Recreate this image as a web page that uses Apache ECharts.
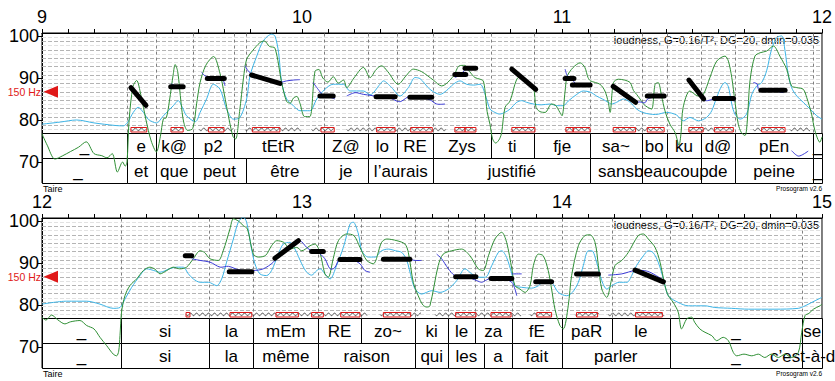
<!DOCTYPE html>
<html><head><meta charset="utf-8">
<script src="https://cdn.jsdelivr.net/npm/echarts@6/dist/echarts.min.js"></script>
<style>html,body{margin:0;padding:0;background:#fff}#c{width:835px;height:381px}</style>
</head><body><div id="c"></div>
<script>
// ---------------- DATA ----------------
// axis ticks / labels
const xLabels1 = [9, 10, 11, 12];
const xLabels2 = [12, 13, 14, 15];
const yLabels = [70, 80, 90, 100];
const refST = 86.74;      // 150 Hz in semitones re 1 Hz
const refLabel = '150 Hz';

// Panel 1 (9 - 12 s)
const green1 = [[9.0,76.7],[9.02,74],[9.05,70.7],[9.08,71.5],[9.11,72.5],[9.14,73.5],[9.17,74.8],[9.2,72],[9.23,71.5],[9.25,71],[9.27,72],[9.29,67.6],[9.31,70],[9.32,69],[9.327,70],[9.335,80],[9.35,88],[9.364,89.4],[9.38,86],[9.4,80],[9.42,75],[9.44,72.4],[9.455,76],[9.467,80.3],[9.478,80.5],[9.49,84.5],[9.505,91],[9.512,93.2],[9.522,91.5],[9.535,84],[9.545,79.5],[9.56,77.5],[9.58,78],[9.595,84],[9.608,88.9],[9.63,93],[9.66,95.1],[9.685,91],[9.7,86.5],[9.72,80],[9.735,76],[9.745,75.5],[9.76,82],[9.775,90],[9.787,94.4],[9.81,96.5],[9.838,98.4],[9.855,98.8],[9.875,97.5],[9.896,97.1],[9.922,88.8],[9.941,84.4],[9.955,84],[9.967,85.2],[9.98,85.6],[9.992,84],[10.01,80.8],[10.03,80.8],[10.05,91.6],[10.065,92],[10.08,90],[10.1,89],[10.12,90.3],[10.14,88.8],[10.16,89.5],[10.172,87.7],[10.2,90],[10.236,92.5],[10.262,90.1],[10.285,92],[10.306,92.9],[10.33,91.5],[10.37,88.5],[10.4,90.5],[10.428,92.1],[10.46,91.5],[10.505,89.5],[10.537,88.1],[10.582,90.4],[10.605,92.9],[10.625,93],[10.645,91.5],[10.665,90.1],[10.685,89.7],[10.697,89.3],[10.704,86.9],[10.712,82],[10.723,79],[10.733,75.5],[10.745,74.5],[10.76,75.5],[10.768,77],[10.781,83],[10.8,84.5],[10.826,89.7],[10.845,90.5],[10.864,88.9],[10.89,87.7],[10.9,83],[10.915,82],[10.935,81.8],[10.96,83.8],[10.975,83.5],[10.992,81.8],[11.0,81],[11.012,86.9],[11.02,90.4],[11.043,92.5],[11.07,93.6],[11.088,92.5],[11.1,90.1],[11.11,89.3],[11.146,88.5],[11.165,86.9],[11.178,84.2],[11.185,81.8],[11.198,88.9],[11.217,89.7],[11.24,89.5],[11.262,88.9],[11.275,87],[11.287,86.1],[11.3,85],[11.313,83.8],[11.33,83],[11.345,82.6],[11.358,88.5],[11.37,88.9],[11.383,85.7],[11.396,82.2],[11.415,79],[11.435,77],[11.45,74],[11.458,77],[11.466,83],[11.492,86.9],[11.524,85.7],[11.543,86],[11.569,90.1],[11.595,94],[11.627,95.2],[11.64,94],[11.653,90.1],[11.665,84.5],[11.678,79],[11.69,77],[11.704,76.3],[11.713,80],[11.723,89.3],[11.742,95.2],[11.762,96],[11.787,96.4],[11.813,97.6],[11.838,95.2],[11.864,92.1],[11.883,88.1],[11.903,87.7],[11.928,87.3],[11.941,85.4],[11.96,81.4],[11.973,77.4],[11.992,74.7],[12.0,76]];
const loud1 = [[9.0,79],[9.07,79.5],[9.133,80],[9.2,79.3],[9.28,78.7],[9.313,78.6],[9.33,79.5],[9.351,81.8],[9.37,83],[9.39,81.8],[9.41,80.1],[9.44,79.3],[9.467,81],[9.505,83.4],[9.524,84.6],[9.54,83],[9.556,81],[9.59,79.6],[9.608,81.8],[9.633,85],[9.659,88.5],[9.685,87.3],[9.71,82.6],[9.736,80.2],[9.76,80.5],[9.787,85],[9.8,90.5],[9.826,95.2],[9.851,98.8],[9.883,100.4],[9.896,100],[9.91,96],[9.922,88.9],[9.941,85],[9.967,83.4],[9.992,82.2],[10.03,82.2],[10.057,85],[10.088,87.3],[10.12,88.5],[10.159,88.5],[10.185,86.9],[10.236,86.9],[10.262,86],[10.3,88.5],[10.313,89.3],[10.345,87.7],[10.377,85.7],[10.409,87.7],[10.435,90.1],[10.455,89.8],[10.492,87.3],[10.531,86.1],[10.556,87],[10.582,88.5],[10.608,89.3],[10.633,88.5],[10.66,88.3],[10.685,88.5],[10.71,85],[10.723,82.6],[10.742,81.8],[10.76,81.4],[10.78,81.8],[10.8,82.6],[10.826,84.2],[10.845,84.6],[10.864,84.2],[10.89,83.8],[10.92,83.6],[10.954,83.8],[10.98,83.4],[11.005,83.4],[11.024,84.5],[11.057,86.1],[11.082,86.9],[11.11,86.6],[11.133,85.7],[11.155,85],[11.178,84.2],[11.19,83.8],[11.21,84.2],[11.236,85],[11.262,84.2],[11.287,82.6],[11.31,81.8],[11.338,81.4],[11.36,81.3],[11.403,81.8],[11.44,81.2],[11.467,79.8],[11.492,80.6],[11.525,79.8],[11.556,80.6],[11.576,82.2],[11.595,85.4],[11.614,88.1],[11.627,88.9],[11.64,87.9],[11.653,83.8],[11.665,81.4],[11.685,80.2],[11.71,81.4],[11.73,86.1],[11.749,88.1],[11.768,88.9],[11.787,91.7],[11.806,96.8],[11.826,99.6],[11.845,100],[11.858,96.4],[11.87,90.9],[11.883,87.7],[11.903,85.7],[11.928,84.2],[11.954,82.6],[11.98,81],[12.0,80.2]];
const pitch1 = [
  [[9.498,88.6],[9.51,88.2],[9.525,87.9],[9.543,87.6]],
  [[9.614,91.3],[9.625,90.6],[9.64,90.2],[9.67,90.0],[9.695,89.6],[9.704,88.1]],
  [[9.781,92.9],[9.793,91.7],[9.81,90.8],[9.86,89.9],[9.915,89],[9.941,89.3],[9.967,89.5],[9.992,89.6]],
  [[10.043,88.9],[10.062,87.3],[10.08,86],[10.1,85.6],[10.127,85]],
  [[10.172,85.7],[10.204,86.5],[10.236,86.1],[10.27,85.8],[10.3,85.5],[10.34,85.2],[10.364,84.5],[10.38,84.4],[10.415,85.7],[10.45,85.4],[10.492,84.8],[10.518,83.8],[10.55,83.8]],
  [[10.588,90.1],[10.61,90.8],[10.63,92],[10.668,92.3]],
  [[10.81,91.8],[10.85,89.5],[10.896,87.4]],
  [[11.012,92.1],[11.02,90.6],[11.04,89.5],[11.06,88.3],[11.105,88.2]],
  [[11.2,87.5],[11.24,85.6],[11.283,84.2],[11.3,84.3],[11.319,84.1],[11.33,85],[11.36,85.6]],
  [[11.49,89.5],[11.52,87],[11.543,84.8],[11.56,84.6],[11.586,85],[11.62,85],[11.665,84.5]],
  [[11.736,88.9],[11.75,88.6],[11.758,87.2],[11.8,87.1],[11.851,86.5]],
  [[11.883,72.7],[11.91,71.4],[11.947,72.6]]
];
const styl1 = [[9.342,87.7,9.4,83.5],[9.495,87.9,9.543,87.9],[9.636,89.9,9.701,89.9],[9.806,90.7,9.915,88.7],[10.069,85.7,10.12,85.7],[10.285,85.5,10.358,85.5],[10.415,85.4,10.499,85.4],[10.588,90.8,10.63,90.8],[10.627,92.3,10.668,92.3],[10.807,92.1,10.899,87.3],[11.012,89.9,11.046,89.9],[11.04,88.3,11.108,88.3],[11.197,88,11.283,84.2],[11.328,85.7,11.393,85.7],[11.488,89.5,11.545,85],[11.586,85.1,11.66,85.1],[11.765,87.1,11.858,87.1]];
const syl1 = [[9.0,9.326,'_'],[9.326,9.437,'e'],[9.437,9.58,'k@'],[9.58,9.737,'p2'],[9.737,10.083,'tEtR'],[10.083,10.255,'Z@'],[10.255,10.364,'lo'],[10.364,10.505,'RE'],[10.505,10.726,'Zys'],[10.726,10.892,'ti'],[10.892,11.109,'fje'],[11.109,11.306,'sa~'],[11.306,11.404,'bo'],[11.404,11.535,'ku'],[11.535,11.665,'d@'],[11.665,11.967,'pEn'],[11.967,12.0,'_']];
const words1 = [[8.95,9.326,'_'],[9.326,9.437,'et'],[9.437,9.58,'que'],[9.58,9.785,'peut'],[9.785,10.083,'être'],[10.083,10.255,'je'],[10.255,10.505,'l’aurais'],[10.505,11.109,'justifié'],[11.109,11.306,'sans'],[11.306,11.535,'beaucoup'],[11.535,11.665,'de'],[11.665,11.967,'peine'],[11.967,12.0,'_']];
const voiced1 = [[9.342,9.403],[9.496,9.543],[9.605,9.736],[9.781,9.999],[10.037,10.124],[10.172,10.556],[10.588,10.669],[10.807,10.896],[11.012,11.108],[11.197,11.393],[11.488,11.659],[11.736,11.858],[11.877,11.954]];
const nuclei1 = [[9.342,9.403],[9.496,9.543],[9.64,9.7],[9.809,9.915],[10.073,10.124],[10.287,10.358],[10.418,10.501],[10.588,10.627],[10.627,10.669],[10.807,10.896],[11.015,11.043],[11.043,11.108],[11.197,11.283],[11.328,11.393],[11.488,11.543],[11.586,11.659],[11.768,11.858]];

// Panel 2 (12 - 15 s)
const green2 = [[12.0,77.1],[12.015,76.4],[12.037,77.6],[12.06,76.5],[12.088,75.5],[12.11,76],[12.146,76.3],[12.172,75.1],[12.2,74.3],[12.223,72.3],[12.249,70.3],[12.274,68.3],[12.287,67.9],[12.295,69],[12.3,72.7],[12.306,78.3],[12.319,82.2],[12.338,84.6],[12.364,86.2],[12.39,88.2],[12.415,89],[12.435,88.5],[12.454,87.4],[12.48,88.2],[12.505,89],[12.53,88.6],[12.556,89],[12.582,91],[12.608,92.9],[12.625,92.5],[12.646,91],[12.678,90.6],[12.697,92.9],[12.723,98.1],[12.736,100.5],[12.755,100],[12.774,98.9],[12.79,98.1],[12.813,92.1],[12.832,91.4],[12.86,91.8],[12.883,94.1],[12.903,95.3],[12.93,94.9],[12.954,93.3],[12.98,93.7],[12.999,92.9],[13.031,94.1],[13.05,94.5],[13.069,92.5],[13.088,87.4],[13.101,86.6],[13.12,91],[13.14,95.3],[13.172,96.9],[13.2,96.5],[13.223,93.7],[13.249,90.6],[13.274,89.8],[13.306,94.9],[13.326,95.7],[13.365,95.3],[13.396,94.5],[13.409,92.5],[13.428,85.4],[13.447,82.2],[13.465,80],[13.48,79.5],[13.492,79.8],[13.524,89.4],[13.543,92.1],[13.576,92.9],[13.614,93.3],[13.646,91.7],[13.678,88.6],[13.697,88.2],[13.717,91.7],[13.742,95.7],[13.768,97.3],[13.787,94.9],[13.807,88.6],[13.819,84.6],[13.838,83.8],[13.858,83],[13.877,84.6],[13.89,89.4],[13.909,92.1],[13.928,91.7],[13.947,88.2],[13.96,83.8],[13.973,79],[13.992,75.1],[14.005,74.3],[14.024,79.8],[14.037,87],[14.063,94.1],[14.088,96.5],[14.108,96.7],[14.127,94.9],[14.14,89.4],[14.153,83.8],[14.172,81.8],[14.191,86.2],[14.204,89.4],[14.23,90.6],[14.255,92.5],[14.293,96.5],[14.313,96.9],[14.332,95.7],[14.358,93.7],[14.377,90.2],[14.396,84.6],[14.409,82.2],[14.428,80.6],[14.447,78.3],[14.46,74.3],[14.48,76.7],[14.499,77.1],[14.51,75.9],[14.53,74.3],[14.55,73.5],[14.576,72.7],[14.595,71.5],[14.62,72.3],[14.64,71.5],[14.659,68.7],[14.672,67.9],[14.7,68.3],[14.73,67.9],[14.755,68.3],[14.78,67.5],[14.805,68.3],[14.832,67.5],[14.858,68.3],[14.883,67.5],[14.909,68.7],[14.922,73.5],[14.935,77.5],[14.95,78],[14.967,79],[14.992,79.8],[15.0,80.2]];
const loud2 = [[12.0,80.2],[12.095,80.9],[12.172,80.9],[12.223,80.2],[12.274,79.2],[12.3,79.4],[12.319,81.4],[12.345,84.2],[12.377,87],[12.403,88.6],[12.43,88.2],[12.454,87.8],[12.49,88.6],[12.518,89],[12.543,89],[12.563,87.4],[12.582,86.2],[12.608,85.4],[12.64,85.4],[12.672,84.6],[12.691,86.2],[12.71,90.2],[12.736,95.7],[12.755,99.7],[12.774,100.9],[12.787,99.7],[12.806,93.3],[12.819,89.8],[12.838,87.4],[12.864,87],[12.883,88.2],[12.909,92.1],[12.928,94.5],[12.954,94.9],[12.973,93.3],[12.999,89.8],[13.018,87.8],[13.037,87.1],[13.057,88.2],[13.07,88.6],[13.088,87.4],[13.108,86.2],[13.133,89.4],[13.159,93.7],[13.185,99.3],[13.197,99.7],[13.217,96.9],[13.23,92.9],[13.255,91.4],[13.281,91.4],[13.306,92.9],[13.332,93.3],[13.36,92.9],[13.384,92.5],[13.403,90.6],[13.422,86.2],[13.435,83.8],[13.46,82.6],[13.499,83.4],[13.531,83],[13.563,83.8],[13.595,85.8],[13.627,88.6],[13.653,87.4],[13.678,86.6],[13.705,86.6],[13.73,89.4],[13.755,92.5],[13.768,92.9],[13.787,91.3],[13.807,87.4],[13.819,84.6],[13.845,84.2],[13.883,84],[13.91,84.6],[13.935,85.8],[13.96,85.4],[13.986,83],[14.018,82.2],[14.04,83],[14.063,85.4],[14.082,89.4],[14.101,92.9],[14.115,92.9],[14.133,90.2],[14.153,85.8],[14.172,83.8],[14.191,84.6],[14.22,85.4],[14.25,85.4],[14.268,87],[14.287,89.4],[14.313,91.7],[14.332,92.9],[14.35,92.5],[14.37,90.2],[14.39,86.2],[14.409,82.2],[14.447,80.6],[14.486,79.8],[14.55,79.8],[14.588,79.4],[14.653,79.2],[14.717,79],[14.819,79],[14.909,79.2],[14.935,79.8],[14.973,81],[15.0,81.8]];
const pitch2 = [
  [[12.576,91],[12.608,90.6],[12.646,90.2],[12.685,89],[12.717,89.2],[12.76,88.3],[12.813,88.2],[12.851,88.6],[12.89,90.2],[12.92,92.5],[12.96,94.5],[12.992,95.3],[13.018,93.7],[13.037,92.9],[13.06,92.6],[13.088,91],[13.108,88.6],[13.125,88.8],[13.146,91],[13.19,90.9],[13.223,89.8],[13.242,88.2],[13.262,87.8]],
  [[13.313,91],[13.36,90.9],[13.415,90.8],[13.435,90.6],[13.46,90.6]],
  [[13.518,92.1],[13.537,91],[13.563,88.6],[13.588,87],[13.63,86.8],[13.672,85.8],[13.691,85.4],[13.705,85.8],[13.727,86.4],[13.77,86.3],[13.807,85.4],[13.819,83.8],[13.826,82.2]],
  [[13.807,87.4],[13.845,87.4]],
  [[13.9,85.8],[13.93,85.5],[13.96,85.3]],
  [[14.056,87.5],[14.1,87.4],[14.14,87.3]],
  [[14.178,87.1],[14.23,87.4],[14.281,88.2],[14.33,88],[14.383,86.2]]
];
const styl2 = [[12.551,91.7,12.576,91.7],[12.72,87.9,12.807,87.9],[12.896,91.1,12.986,95.3],[13.037,92.7,13.082,92.7],[13.146,90.8,13.223,90.8],[13.313,90.9,13.415,90.9],[13.591,86.7,13.669,86.7],[13.727,86.3,13.807,86.3],[13.899,85.5,13.96,85.5],[14.056,87.4,14.14,87.4],[14.281,88.3,14.39,85.5]];
const syl2 = [[12.0,12.304,'_'],[12.304,12.644,'si'],[12.644,12.813,'la'],[12.813,13.063,'mEm'],[13.063,13.226,'RE'],[13.226,13.435,'zo~'],[13.435,13.563,'ki'],[13.563,13.665,'le'],[13.665,13.807,'za'],[13.807,13.999,'fE'],[13.999,14.191,'paR'],[14.191,14.415,'le'],[14.415,14.924,'_'],[14.924,15.0,'se']];
const words2 = [[12.0,12.304,'_'],[12.304,12.644,'si'],[12.644,12.813,'la'],[12.813,13.063,'même'],[13.063,13.435,'raison'],[13.435,13.563,'qui'],[13.563,13.701,'les'],[13.701,13.807,'a'],[13.807,13.999,'fait'],[13.999,14.415,'parler'],[14.415,14.924,'_'],[14.924,15.0,'c’est-à-dire']];
const voiced2 = [[12.554,13.254],[13.3,13.46],[13.512,13.845],[13.877,13.96],[14.05,14.145],[14.178,14.395]];
const nuclei2 = [[12.554,12.569],[12.723,12.807],[12.9,12.986],[13.037,13.082],[13.149,13.223],[13.313,13.418],[13.591,13.669],[13.727,13.804],[13.903,13.96],[14.056,14.137],[14.283,14.386]];

// ---------------- LAYOUT / STYLE ----------------
const FONT = '"Liberation Sans", Arial, Helvetica, sans-serif';
const YMIN = 65, YMAX = 100.7, TIER_TOP = 77;
const C_GREEN = '#2f8f35', C_LOUD = '#3cb4e6', C_PITCH = '#3a3ad6', C_RED = '#e01818';

function range(a, b, step) { const r = []; for (let k = 0; ; k++) { const v = +(a + k * step).toFixed(4); if (v > b + 1e-9) break; r.push(v); } return r; }
// semitone guide lines, 1 ST apart around the 150 Hz reference (every 2nd one stronger)
const hGrid = range(refST - 9, refST + 13, 1).filter(v => v > TIER_TOP && v < YMAX);

const panels = [
  {xmin: 9, xmax: 12, labels: xLabels1, green: green1, loud: loud1, pitch: pitch1, styl: styl1, syl: syl1, words: words1, voiced: voiced1, nuclei: nuclei1, top: 33},
  {xmin: 12, xmax: 15, labels: xLabels2, green: green2, loud: loud2, pitch: pitch2, styl: styl2, syl: syl2, words: words2, voiced: voiced2, nuclei: nuclei2, top: 218}
];

const grids = [], xAxes = [], yAxes = [], series = [], graphics = [];
panels.forEach((p, i) => {
  grids.push({left: 42, right: 13, top: p.top, height: 150, show: true, borderColor: '#000', borderWidth: 1, backgroundColor: '#fff'});
  xAxes.push({gridIndex: i, type: 'value', position: 'top', min: p.xmin, max: p.xmax,
    axisLine: {show: true, onZero: false, lineStyle: {color: '#000', width: 1}},
    axisTick: {show: true, customValues: range(p.xmin, p.xmax, 0.1), length: 4, lineStyle: {color: '#000'}},
    axisLabel: {show: true, customValues: p.labels, fontSize: 18, color: '#000', fontFamily: FONT, margin: 7},
    splitLine: {show: false}});
  yAxes.push({gridIndex: i, type: 'value', min: YMIN, max: YMAX,
    axisLine: {show: true, onZero: false, lineStyle: {color: '#000', width: 1}},
    axisTick: {show: true, customValues: yLabels, length: 4, lineStyle: {color: '#000'}},
    axisLabel: {show: true, customValues: yLabels, fontSize: 18, color: '#000', fontFamily: FONT, margin: 3},
    splitLine: {show: false}});

  const base = {xAxisIndex: i, yAxisIndex: i, silent: true, animation: false};

  // horizontal grid lines (semitones)
  series.push(Object.assign({}, base, {type: 'custom', z: 1, clip: true,
    data: hGrid.map(v => [p.xmin, v]),
    renderItem: (params, api) => {
      const v = api.value(1), a = api.coord([p.xmin, v]), b = api.coord([p.xmax, v]);
      const strong = Math.round(Math.abs(v - refST)) % 2 === 0;
      return {type: 'line', shape: {x1: a[0], y1: Math.round(a[1]) + 0.5, x2: b[0], y2: Math.round(b[1]) + 0.5},
        style: {stroke: strong ? '#b4b4b4' : '#e2e2e2', lineWidth: 1, lineDash: [4, 2]}};
    }}));

  // vertical boundary lines
  const bset = new Set();
  p.syl.concat(p.words).forEach(d => { [d[0], d[1]].forEach(t => { if (t > p.xmin + 1e-6 && t < p.xmax - 1e-6) bset.add(t); }); });
  const bounds = Array.from(bset).sort((a, b) => a - b);
  series.push(Object.assign({}, base, {type: 'custom', z: 2, clip: true,
    data: bounds.map(t => [t, TIER_TOP]),
    renderItem: (params, api) => {
      const t = api.value(0), a = api.coord([t, TIER_TOP]), b = api.coord([t, YMAX]);
      const x = Math.round(a[0]) + 0.5;
      return {type: 'line', shape: {x1: x, y1: a[1], x2: x, y2: b[1]}, style: {stroke: '#808080', lineWidth: 1, lineDash: [3, 3]}};
    }}));

  // tiers
  [p.syl, p.words].forEach((tier, row) => {
    series.push(Object.assign({}, base, {type: 'custom', z: 3, clip: false,
      data: tier.map(d => [d[0], d[1]]),
      encode: {x: [0, 1]},
      renderItem: (params, api) => {
        const d = tier[params.dataIndex];
        const s = Math.max(d[0], p.xmin), e = Math.min(d[1], p.xmax);
        const yT = api.coord([p.xmin, TIER_TOP])[1], yB = api.coord([p.xmin, YMIN])[1];
        const h = (yB - yT) / 2, y0 = yT + row * h;
        const a = api.coord([s, TIER_TOP]), b = api.coord([e, TIER_TOP]);
        const c = api.coord([(d[0] + d[1]) / 2, TIER_TOP]);
        return {type: 'group', children: [
          {type: 'rect', shape: {x: Math.round(a[0]) + 0.5, y: Math.round(y0) + 0.5, width: Math.round(b[0]) - Math.round(a[0]), height: Math.round(h)},
            style: {fill: '#fff', stroke: '#000', lineWidth: 1}},
          {type: 'text', z2: 10, style: {text: d[2], x: c[0], y: y0 + h / 2 + 1, align: 'center', verticalAlign: 'middle', fontSize: 17, fontFamily: FONT, fill: '#000'}}
        ]};
      }}));
  });

  // voiced (zigzag)
  series.push(Object.assign({}, base, {type: 'custom', z: 4, clip: true,
    data: p.voiced.map(d => [d[0], d[1]]), encode: {x: [0, 1]},
    renderItem: (params, api) => {
      const a = api.coord([api.value(0), TIER_TOP]), b = api.coord([api.value(1), TIER_TOP]);
      const yc = a[1] - 3.2, pts = [];
      for (let x = a[0]; x <= b[0]; x += 1) pts.push([x, yc + 1.5 * Math.sin((x - a[0]) / 6 * 2 * Math.PI)]);
      return {type: 'polyline', shape: {points: pts}, style: {stroke: '#444', lineWidth: 0.8, fill: null}};
    }}));
  // nuclei (red boxes)
  series.push(Object.assign({}, base, {type: 'custom', z: 5, clip: true,
    data: p.nuclei.map(d => [d[0], d[1]]), encode: {x: [0, 1]},
    renderItem: (params, api) => {
      const a = api.coord([api.value(0), TIER_TOP]), b = api.coord([api.value(1), TIER_TOP]);
      return {type: 'rect', shape: {x: a[0], y: Math.round(a[1]) - 5.5, width: b[0] - a[0], height: 4.5},
        style: {fill: null, stroke: C_RED, lineWidth: 1}};
    }}));

  // loudness (light blue)
  series.push(Object.assign({}, base, {type: 'line', z: 6, data: p.loud, showSymbol: false, smooth: 0.3,
    lineStyle: {color: C_LOUD, width: 1}, itemStyle: {color: C_LOUD}}));
  // intensity (green)
  series.push(Object.assign({}, base, {type: 'line', z: 7, data: p.green, showSymbol: false, smooth: 0.3,
    lineStyle: {color: C_GREEN, width: 1}, itemStyle: {color: C_GREEN}}));
  // pitch (dark blue)
  series.push(Object.assign({}, base, {type: 'custom', z: 8, clip: true,
    data: p.pitch.map(pc => [pc[0][0], pc[0][1]]),
    renderItem: (params, api) => {
      const pts = p.pitch[params.dataIndex].map(q => api.coord(q));
      return {type: 'polyline', shape: {points: pts, smooth: 0.3}, style: {stroke: C_PITCH, lineWidth: 1, fill: null}};
    }}));
  // stylisation (black)
  series.push(Object.assign({}, base, {type: 'custom', z: 9, clip: true,
    data: p.styl, encode: {x: [0, 2], y: [1, 3]},
    renderItem: (params, api) => {
      const a = api.coord([api.value(0), api.value(1)]), b = api.coord([api.value(2), api.value(3)]);
      return {type: 'line', shape: {x1: a[0], y1: a[1], x2: b[0], y2: b[1]}, style: {stroke: '#000', lineWidth: 5, lineCap: 'round'}};
    }}));
  // 150 Hz reference marker
  series.push(Object.assign({}, base, {type: 'custom', z: 10, clip: false,
    data: [[p.xmin, refST]],
    renderItem: (params, api) => {
      const a = api.coord([api.value(0), api.value(1)]);
      return {type: 'group', children: [
        {type: 'polygon', shape: {points: [[a[0] + 1.5, a[1]], [a[0] + 16, a[1] - 6], [a[0] + 16, a[1] + 6]]}, style: {fill: C_RED}},
        {type: 'text', style: {text: refLabel, x: a[0] - 1, y: a[1] + 0.5, align: 'right', verticalAlign: 'middle', fontSize: 10.5, fontFamily: FONT, fill: C_RED}}
      ]};
    }}));

  // annotation texts
  graphics.push({type: 'text', right: 835 - 819, top: p.top + 1, style: {text: 'loudness, G=0.16/T², DG=20, dmin=0.035', fontSize: 11, fontFamily: FONT, fill: '#000'}});
  graphics.push({type: 'text', left: 43, top: p.top + 151, style: {text: 'Taire', fontSize: 9, fontFamily: FONT, fill: '#000'}});
  graphics.push({type: 'text', right: 835 - 822, top: p.top + 152, style: {text: 'Prosogram v2.6', fontSize: 6.5, fontFamily: FONT, fill: '#000'}});
});

const chart = echarts.init(document.getElementById('c'), null, {renderer: 'svg'});
chart.setOption({
  animation: false,
  backgroundColor: '#fff',
  textStyle: {fontFamily: FONT},
  grid: grids, xAxis: xAxes, yAxis: yAxes, series: series, graphic: graphics
});
</script></body></html>
